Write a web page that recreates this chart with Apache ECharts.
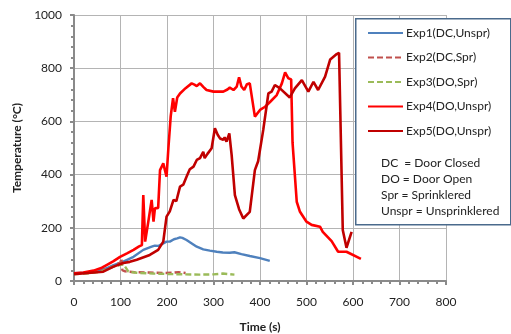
<!DOCTYPE html>
<html>
<head>
<meta charset="utf-8">
<script src="https://cdn.jsdelivr.net/npm/echarts@6/dist/echarts.min.js"></script>
<style>html,body{margin:0;padding:0;background:#fff}#c{width:511px;height:334px}</style>
</head>
<body>
<div id="c"></div>
<script>
var seriesNames = ['Exp1(DC,Unspr)', 'Exp2(DC,Spr)', 'Exp3(DO,Spr)', 'Exp4(DO,Unspr)', 'Exp5(DO,Unspr)'];
var notes = ['DC  = Door Closed', 'DO = Door Open', 'Spr = Sprinklered', 'Unspr = Unsprinklered'];
var xTicks = [0, 100, 200, 300, 400, 500, 600, 700, 800];
var yTicks = [0, 200, 400, 600, 800, 1000];

var exp1 = [[0,29],[30,31],[49,35],[70,48],[85,60],[106,73],[128,91],[149,117],[167,129],[174,133],[178,138],[182,132],[199,148],[206,148],[215,157],[222,160],[228,164],[233,162],[237,165],[242,154],[250,145],[264,129],[278,119],[292,114],[307,110],[320,107],[335,106],[345,108],[360,101],[378,94],[400,86],[421,76]];
var exp2 = [[0,28],[30,30],[60,38],[85,55],[100,70],[102,85],[104,41],[110,36],[130,33],[160,32],[190,30],[210,31],[225,33],[235,31],[240,30]];
var exp3 = [[0,26],[30,29],[60,36],[85,54],[106,64],[110,65],[117,35],[135,31],[170,28],[206,26],[240,25],[270,24],[300,25],[320,28],[345,24]];
var exp4 = [[0,29],[20,32],[42,39],[60,50],[70,60],[85,75],[99,91],[115,105],[128,117],[140,130],[146,135],[149,323],[153,148],[160,225],[167,305],[171,223],[174,273],[178,268],[181,275],[185,417],[192,442],[199,392],[203,500],[208,620],[213,687],[217,636],[222,690],[228,705],[240,725],[253,743],[259,738],[264,733],[271,743],[278,730],[285,718],[300,712],[321,712],[330,720],[335,727],[343,718],[350,731],[355,766],[360,731],[366,718],[372,740],[378,743],[389,618],[400,643],[411,655],[422,674],[436,699],[447,743],[454,784],[461,762],[467,758],[470,520],[479,298],[486,260],[500,223],[511,211],[529,204],[535,185],[538,188],[554,150],[568,110],[586,110],[617,83]];
var exp5 = [[0,26],[30,30],[63,35],[85,54],[106,68],[120,72],[135,80],[163,98],[181,117],[192,148],[199,242],[206,262],[214,305],[220,300],[228,355],[235,362],[242,392],[249,420],[257,430],[264,455],[271,462],[278,486],[281,462],[287,478],[291,472],[296,499],[303,574],[309,550],[314,536],[321,531],[324,540],[328,524],[334,555],[339,474],[346,323],[355,270],[364,235],[378,260],[389,417],[393,436],[396,450],[407,568],[418,705],[422,700],[425,712],[432,737],[443,724],[464,690],[475,724],[490,755],[504,712],[515,749],[525,718],[540,768],[551,833],[565,853],[570,858],[574,855],[578,192],[586,125],[597,185]];

var colors = ['#4F81BD', '#C0504D', '#9BBB59', '#FF0000', '#C00000'];
var dataSets = [exp1, exp2, exp3, exp4, exp5];
var lineTypes = ['solid', [6, 3], [6, 3], 'solid', 'solid'];
var FONT = 'Lato, "Liberation Sans", sans-serif';

var chart = echarts.init(document.getElementById('c'), null, {renderer: 'canvas'});
var series = dataSets.map(function (d, i) {
  return {
    name: seriesNames[i],
    type: 'line',
    data: d,
    symbol: 'none',
    showSymbol: false,
    z: 2,
    lineStyle: {color: colors[i], width: i >= 3 ? 2.6 : 2.4, type: lineTypes[i]},
    itemStyle: {color: colors[i]}
  };
});

var noteTexts = notes.map(function (t, i) {
  return {
    type: 'text', left: 381, top: 157 + i * 16, z: 20,
    style: {text: t, fontSize: 12, fontFamily: FONT, fill: '#222'}
  };
});

chart.setOption({
  animation: false,
  backgroundColor: '#fff',
  grid: {left: 74, right: 65, top: 15, bottom: 53, containLabel: false, outerBoundsMode: 'none'},
  xAxis: {
    type: 'value', min: 0, max: 800, interval: 100,
    name: 'Time (s)', nameLocation: 'middle', nameGap: 40,
    nameTextStyle: {fontSize: 12, fontWeight: 'bold', fontFamily: FONT, color: '#222'},
    axisLine: {show: true, lineStyle: {color: '#8a8a8a', width: 2}},
    axisTick: {show: true, length: 4, lineStyle: {color: '#8a8a8a', width: 2}},
    minorTick: {show: true, splitNumber: 5, length: 3, lineStyle: {color: '#8a8a8a', width: 2}},
    axisLabel: {fontSize: 12, fontFamily: FONT, color: '#222', margin: 15,
      formatter: function (v) { return xTicks.indexOf(v) >= 0 ? String(v) : ''; }},
    splitLine: {show: true, lineStyle: {color: '#b4b4b4', width: 1}}
  },
  yAxis: {
    type: 'value', min: 0, max: 1000, interval: 200,
    name: 'Temperature (°C)', nameLocation: 'middle', nameGap: 50,
    nameTextStyle: {fontSize: 12, fontWeight: 'bold', fontFamily: FONT, color: '#222'},
    axisLine: {show: true, lineStyle: {color: '#8a8a8a', width: 2}},
    axisTick: {show: true, length: 4, lineStyle: {color: '#8a8a8a', width: 2}},
    minorTick: {show: true, splitNumber: 5, length: 3, lineStyle: {color: '#8a8a8a', width: 2}},
    axisLabel: {fontSize: 12, fontFamily: FONT, color: '#222', margin: 12,
      formatter: function (v) { return yTicks.indexOf(v) >= 0 ? String(v) : ''; }},
    splitLine: {show: true, lineStyle: {color: '#b4b4b4', width: 1}}
  },
  legend: {
    orient: 'vertical', left: 367, top: 26, itemWidth: 35, itemHeight: 14, itemGap: 10.5,
    padding: 0, z: 20,
    itemStyle: {opacity: 0},
    textStyle: {fontSize: 12, fontFamily: FONT, color: '#222', padding: [0, 0, 0, -2], lineHeight: 14},
    data: seriesNames
  },
  graphic: [{
    type: 'rect', left: 355, top: 18, z: 10,
    shape: {width: 155, height: 206},
    style: {fill: '#fff', stroke: '#4a6a8c', lineWidth: 1.5}
  }].concat(noteTexts),
  series: series
});
</script>
</body>
</html>
